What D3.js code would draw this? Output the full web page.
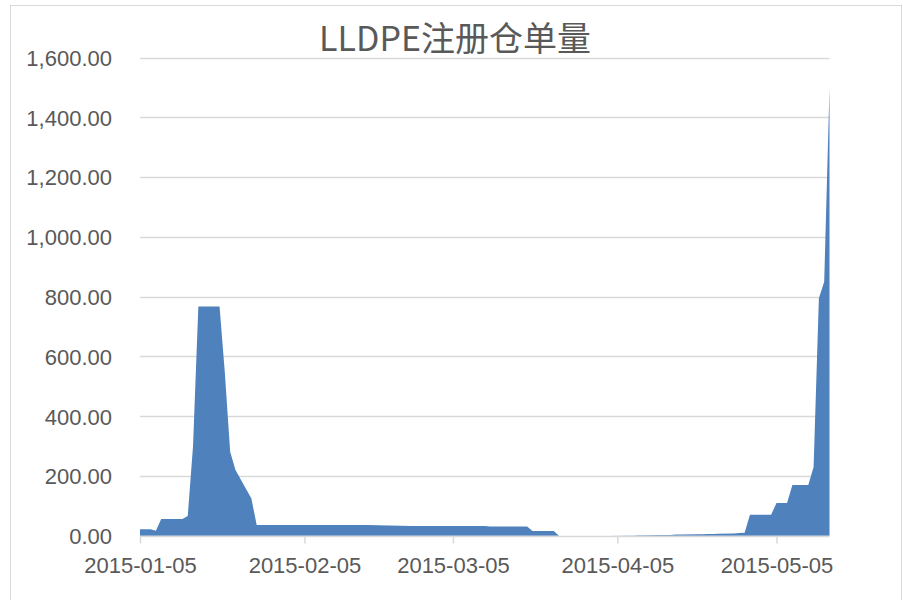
<!DOCTYPE html>
<html>
<head>
<meta charset="utf-8">
<script src="https://cdn.jsdelivr.net/npm/d3@7"></script>
<style>
  html, body { margin: 0; padding: 0; background: #fff; }
  svg { display: block; }
</style>
</head>
<body>
<svg id="chart" width="903" height="600"></svg>
<script>
const title = "LLDPE注册仓单量";
const dates = [
  "2015-01-05","2015-01-06","2015-01-07","2015-01-08","2015-01-09",
  "2015-01-12","2015-01-13","2015-01-14","2015-01-15","2015-01-16",
  "2015-01-19","2015-01-20","2015-01-21","2015-01-22","2015-01-23",
  "2015-01-26","2015-01-27","2015-01-28","2015-01-29","2015-01-30",
  "2015-02-02","2015-02-03","2015-02-04","2015-02-05","2015-02-06",
  "2015-02-09","2015-02-10","2015-02-11","2015-02-12","2015-02-13",
  "2015-02-16","2015-02-17",
  "2015-02-25","2015-02-26","2015-02-27",
  "2015-03-02","2015-03-03","2015-03-04","2015-03-05","2015-03-06",
  "2015-03-09","2015-03-10","2015-03-11","2015-03-12","2015-03-13",
  "2015-03-16","2015-03-17","2015-03-18","2015-03-19","2015-03-20",
  "2015-03-23","2015-03-24","2015-03-25","2015-03-26","2015-03-27",
  "2015-03-30","2015-03-31","2015-04-01","2015-04-02","2015-04-03",
  "2015-04-07","2015-04-08","2015-04-09","2015-04-10",
  "2015-04-13","2015-04-14","2015-04-15","2015-04-16","2015-04-17",
  "2015-04-20","2015-04-21","2015-04-22","2015-04-23","2015-04-24",
  "2015-04-27","2015-04-28","2015-04-29","2015-04-30",
  "2015-05-04","2015-05-05","2015-05-06","2015-05-07","2015-05-08",
  "2015-05-11","2015-05-12","2015-05-13","2015-05-14","2015-05-15"
];
const values = [
  22, 22, 22, 17, 56,
  56, 56, 66, 300, 767,
  767, 767, 545, 281, 220,
  125, 36, 36, 36, 36,
  36, 36, 36, 36, 36,
  36, 36, 36, 36, 36,
  36, 36,
  33, 33, 33,
  33, 33, 33, 33, 33,
  33, 33, 33, 31, 31,
  31, 31, 31, 31, 16,
  16, 16, 0, 0, 0,
  0, 0, 0, 0, 0,
  1, 1, 2, 2,
  3, 3, 3, 4, 4,
  5, 5, 6, 6, 7,
  8, 9, 10, 70,
  70, 110, 110, 110, 170,
  170, 230, 795, 850, 1497
];
const yTicks = [0, 200, 400, 600, 800, 1000, 1200, 1400, 1600];
const xTickLabels = ["2015-01-05","2015-02-05","2015-03-05","2015-04-05","2015-05-05"];
const xDomain = ["2015-01-05","2015-05-15"];

(function () {
const parse = d3.timeParse("%Y-%m-%d");
const data = dates.map((d, i) => ({ date: parse(d), value: values[i] }));

const svg = d3.select("#chart");
const mLeft = 140, mRight = 829.5, mTop = 57.5, mBottom = 535.8;
const textColor = "#595959";
const gridColor = "#d9d9d9";
const labelFont = "'Liberation Sans', Arial, sans-serif";

// chart frame
svg.append("rect")
  .attr("x", 10.5).attr("y", 5.5)
  .attr("width", 891).attr("height", 600)
  .attr("fill", "#fff").attr("stroke", gridColor).attr("stroke-width", 1);

const x = d3.scaleTime().domain(xDomain.map(parse)).range([mLeft, mRight]);
const y = d3.scaleLinear().domain([0, 1600]).range([mBottom, mTop]);

// gridlines
svg.append("g").selectAll("line")
  .data(yTicks.filter(t => t > 0))
  .join("line")
  .attr("x1", mLeft).attr("x2", mRight)
  .attr("y1", d => Math.round(y(d)) + 0.5).attr("y2", d => Math.round(y(d)) + 0.5)
  .attr("stroke", gridColor).attr("stroke-width", 1.5);

// area
const area = d3.area()
  .x(d => x(d.date))
  .y0(y(0))
  .y1(d => y(d.value));
svg.append("path")
  .datum(data)
  .attr("d", area)
  .attr("fill", "#4f81bd");

// y axis labels
const yAxis = d3.axisLeft(y).tickValues(yTicks).tickFormat(d3.format(",.2f")).tickSize(0).tickPadding(0);
const gy = svg.append("g").attr("transform", "translate(112,0)").call(yAxis);
gy.select(".domain").remove();
gy.selectAll("text")
  .attr("fill", textColor)
  .style("font-family", labelFont)
  .style("font-size", "22px")
  .attr("dy", "0.36em");

// x axis
const xAxis = d3.axisBottom(x)
  .tickValues(xTickLabels.map(parse))
  .tickFormat(d3.timeFormat("%Y-%m-%d"))
  .tickSize(7).tickPadding(14);
const gx = svg.append("g").attr("transform", `translate(0,${Math.round(mBottom) + 0.5})`).call(xAxis);
gx.select(".domain").attr("d", `M${mLeft},0H${mRight}`).attr("stroke", gridColor).attr("stroke-width", 1.5);
gx.selectAll(".tick line").attr("stroke", gridColor).attr("stroke-width", 1.5);
gx.selectAll("text")
  .attr("fill", textColor)
  .style("font-family", labelFont)
  .style("font-size", "22px");

// title
svg.append("text")
  .attr("x", 455).attr("y", 51)
  .attr("text-anchor", "middle")
  .attr("fill", textColor)
  .style("font-family", "'Noto Sans CJK SC', 'Noto Sans', sans-serif")
  .style("font-size", "34px")
  .text(title);
})();
</script>
</body>
</html>
